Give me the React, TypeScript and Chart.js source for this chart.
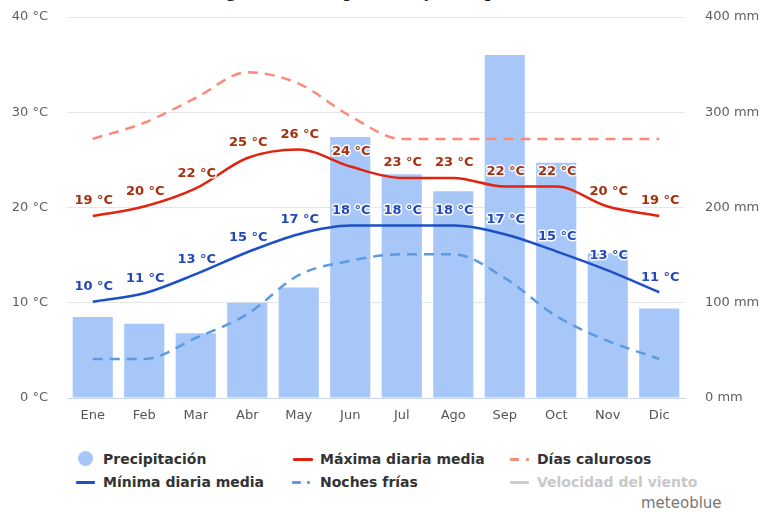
import React, { useEffect, useRef } from 'react';
import { Chart, registerables } from 'chart.js';

Chart.register(...registerables);

const months = ['Ene', 'Feb', 'Mar', 'Abr', 'May', 'Jun', 'Jul', 'Ago', 'Sep', 'Oct', 'Nov', 'Dic'];
const precipitation = [85, 78, 68, 100, 116, 274, 235, 217, 360, 247, 152, 94];
const maxTemp = [19.1, 20.1, 22.0, 25.2, 26.1, 24.3, 23.1, 23.1, 22.2, 22.2, 20.1, 19.1];
const minTemp = [10.1, 11.0, 13.0, 15.3, 17.2, 18.1, 18.1, 18.1, 17.2, 15.4, 13.4, 11.1];
const hotDays = [27.2, 28.9, 31.5, 34.2, 33.0, 29.6, 27.2, 27.2, 27.2, 27.2, 27.2, 27.2];
const coldNights = [4.1, 4.1, 6.3, 8.8, 12.9, 14.4, 15.1, 15.1, 12.6, 8.6, 6.0, 4.1];
const tempTickUnit = ' °C';
const precipTickUnit = ' mm';

const FONT = '"DejaVu Sans", sans-serif';

const labelPlugin = {
  id: 'tempLabels',
  afterDatasetsDraw(chart: any) {
    const ctx = chart.ctx;
    const specs: [number, string][] = [
      [1, '#a3300e'],
      [2, '#2248b9'],
    ];
    specs.forEach(([i, color]) => {
      const meta = chart.getDatasetMeta(i);
      const data = chart.data.datasets[i].data as number[];
      meta.data.forEach((pt: any, j: number) => {
        const text = Math.round(data[j]) + ' °C';
        ctx.save();
        ctx.font = 'bold 13px ' + FONT;
        ctx.textAlign = 'center';
        ctx.textBaseline = 'middle';
        ctx.lineJoin = 'round';
        ctx.lineWidth = 3;
        ctx.strokeStyle = 'rgba(255,255,255,0.95)';
        ctx.strokeText(text, pt.x + 1, pt.y - 15);
        ctx.fillStyle = color;
        ctx.fillText(text, pt.x + 1, pt.y - 15);
        ctx.restore();
      });
    });
  },
};

function ChartCanvas() {
  const ref = useRef<HTMLCanvasElement | null>(null);
  useEffect(() => {
    if (!ref.current) return;
    const chart = new Chart(ref.current, {
      type: 'bar',
      data: {
        labels: months,
        datasets: [
          {
            type: 'bar',
            label: 'Precipitación',
            data: precipitation,
            yAxisID: 'yP',
            backgroundColor: '#a7c7f9',
            borderWidth: 0,
            barPercentage: 0.78,
            categoryPercentage: 1,
            order: 10,
          } as any,
          {
            type: 'line',
            label: 'Máxima diaria media',
            data: maxTemp,
            yAxisID: 'yT',
            borderColor: '#e1230f',
            borderWidth: 2.5,
            pointRadius: 0,
            cubicInterpolationMode: 'monotone',
            fill: false,
            order: 2,
          },
          {
            type: 'line',
            label: 'Mínima diaria media',
            data: minTemp,
            yAxisID: 'yT',
            borderColor: '#1d4fc6',
            borderWidth: 2.5,
            pointRadius: 0,
            cubicInterpolationMode: 'monotone',
            fill: false,
            order: 3,
          },
          {
            type: 'line',
            label: 'Días calurosos',
            data: hotDays,
            yAxisID: 'yT',
            borderColor: '#fb8b78',
            borderWidth: 2.5,
            borderDash: [10, 7],
            pointRadius: 0,
            cubicInterpolationMode: 'monotone',
            fill: false,
            order: 4,
          },
          {
            type: 'line',
            label: 'Noches frías',
            data: coldNights,
            yAxisID: 'yT',
            borderColor: '#5b9be2',
            borderWidth: 2.5,
            borderDash: [10, 7],
            pointRadius: 0,
            cubicInterpolationMode: 'monotone',
            fill: false,
            order: 5,
          },
        ],
      },
      options: {
        responsive: false,
        animation: false,
        devicePixelRatio: 1,
        layout: { padding: { top: 17, left: 0, right: 0, bottom: 0 } },
        plugins: {
          legend: { display: false },
          tooltip: { enabled: false },
          title: { display: false },
        },
        scales: {
          x: {
            grid: { display: false, drawTicks: false },
            border: { display: true, color: '#ccd6eb', width: 1 },
            ticks: { color: '#555', font: { family: FONT, size: 13 }, padding: 10 },
            afterFit(scale: any) {
              scale.height = 32;
            },
          },
          yT: {
            type: 'linear',
            position: 'left',
            min: 0,
            max: 40,
            grid: { color: '#e6e6e6', drawTicks: true, tickLength: 19, tickColor: 'rgba(0,0,0,0)', lineWidth: 1 },
            border: { display: false },
            ticks: {
              stepSize: 10,
              color: '#606060',
              font: { family: FONT, size: 13 },
              padding: 0,
              callback: (v: any) => v + tempTickUnit,
            },
            afterFit(scale: any) {
              scale.width = 67;
            },
          },
          yP: {
            type: 'linear',
            position: 'right',
            min: 0,
            max: 400,
            grid: {
              display: true,
              drawOnChartArea: false,
              drawTicks: true,
              tickLength: 20,
              color: 'rgba(0,0,0,0)',
              tickColor: 'rgba(0,0,0,0)',
            },
            border: { display: false },
            ticks: {
              stepSize: 100,
              color: '#606060',
              font: { family: FONT, size: 13 },
              padding: 0,
              callback: (v: any) => v + precipTickUnit,
            },
            afterFit(scale: any) {
              scale.width = 77;
            },
          },
        },
      },
      plugins: [labelPlugin],
    } as any);
    return () => chart.destroy();
  }, []);
  return <canvas ref={ref} width={762} height={430} style={{ display: 'block', width: 762, height: 430 }} />;
}

const legendText: React.CSSProperties = {
  position: 'absolute',
  fontFamily: FONT,
  fontWeight: 'bold',
  fontSize: 14,
  lineHeight: '20px',
  height: 20,
  whiteSpace: 'nowrap',
  color: '#333',
};

function Line({ x1, x2, y, color, h = 3 }: { x1: number; x2: number; y: number; color: string; h?: number }) {
  return (
    <div
      style={{ position: 'absolute', left: x1, top: y - h / 2, width: x2 - x1, height: h, background: color, borderRadius: 1 }}
    />
  );
}

export default function App() {
  return (
    <div style={{ position: 'absolute', left: 0, top: 0, width: 762, height: 512, overflow: 'hidden', background: '#fff' }}>
      <div
        style={{
          position: 'absolute',
          left: 196,
          top: -23,
          fontFamily: '"Liberation Serif", serif',
          fontWeight: 'bold',
          fontSize: 20,
          lineHeight: '24px',
          whiteSpace: 'nowrap',
          color: '#222',
        }}
      >
        Diagrama de temperatura y de la pluviosidad
      </div>
      <div style={{ position: 'absolute', left: 0, top: 0 }}>
        <ChartCanvas />
      </div>
      {/* Legend row 1 */}
      <div style={{ position: 'absolute', left: 77.5, top: 450.5, width: 15, height: 15, borderRadius: '50%', background: '#a7c7f9' }} />
      <div style={{ ...legendText, left: 103, top: 449 }}>Precipitación</div>
      <Line x1={293} x2={313} y={459} color="#e1230f" />
      <div style={{ ...legendText, left: 320, top: 449 }}>Máxima diaria media</div>
      <Line x1={510} x2={519} y={459} color="#fb8b78" />
      <Line x1={526} x2={529} y={459} color="#fb8b78" />
      <div style={{ ...legendText, left: 537, top: 449 }}>Días calurosos</div>
      {/* Legend row 2 */}
      <Line x1={76} x2={95} y={482} color="#1d4fc6" />
      <div style={{ ...legendText, left: 103, top: 472 }}>Mínima diaria media</div>
      <Line x1={292} x2={301} y={482} color="#5b9be2" />
      <Line x1={307} x2={310} y={482} color="#5b9be2" />
      <div style={{ ...legendText, left: 320, top: 472 }}>Noches frías</div>
      <Line x1={510} x2={529} y={482} color="#cccccc" />
      <div style={{ ...legendText, left: 537, top: 472, color: '#c8c8c8' }}>Velocidad del viento</div>
      <div
        style={{
          position: 'absolute',
          left: 641,
          top: 493,
          fontFamily: FONT,
          fontSize: 15,
          lineHeight: '20px',
          color: '#777',
          whiteSpace: 'nowrap',
        }}
      >
        meteoblue
      </div>
    </div>
  );
}
